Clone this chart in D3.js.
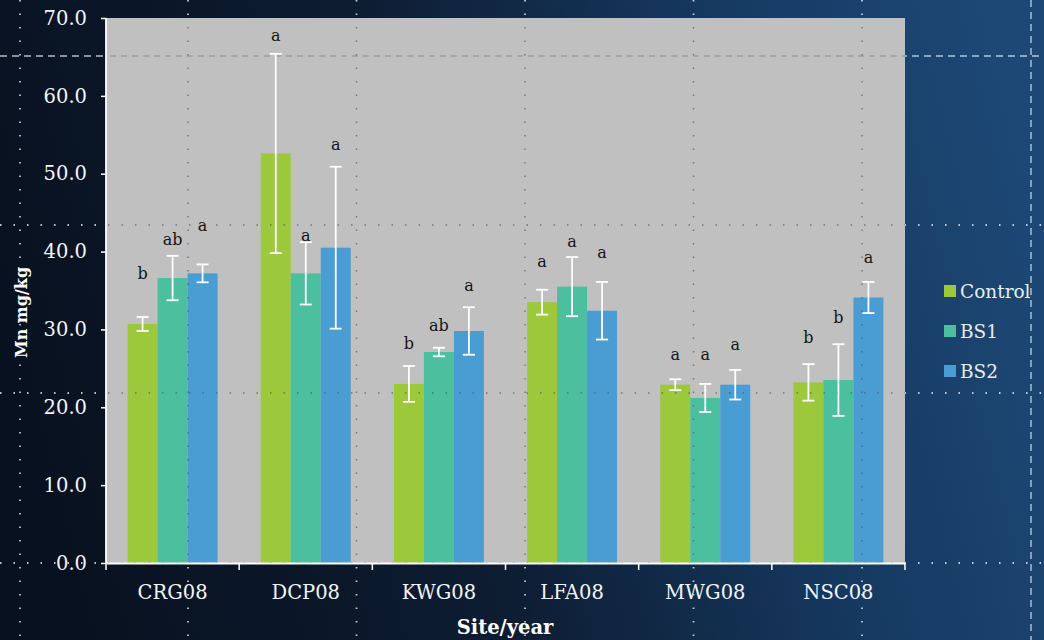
<!DOCTYPE html>
<html>
<head>
<meta charset="utf-8">
<script src="https://cdn.jsdelivr.net/npm/d3@7"></script>
<style>
  html, body { margin: 0; padding: 0; background: #0b1526; }
  svg { display: block; }
</style>
</head>
<body>
<svg id="chart" width="1044" height="640"></svg>
<script>
// Mn concentration by site/year and treatment
const sites = ["CRG08", "DCP08", "KWG08", "LFA08", "MWG08", "NSC08"];
const treatments = ["Control", "BS1", "BS2"];

const controlMean = [30.7, 52.6, 23.0, 33.5, 22.9, 23.2];
const bs1Mean     = [36.6, 37.2, 27.1, 35.5, 21.2, 23.5];
const bs2Mean     = [37.2, 40.5, 29.8, 32.4, 22.9, 34.1];

const controlErr = [0.9, 12.8, 2.3, 1.6, 0.7, 2.35];
const bs1Err     = [2.85, 4.0, 0.55, 3.8, 1.8, 4.6];
const bs2Err     = [1.15, 10.4, 3.05, 3.7, 1.9, 2.0];

// significance letters and the value level they are written at
const controlLetters = ["b", "a", "b", "a", "a", "b"];
const bs1Letters     = ["ab", "a", "ab", "a", "a", "b"];
const bs2Letters     = ["a", "a", "a", "a", "a", "a"];
const controlLetterAt = [37.2, 67.8, 28.2, 38.8, 26.8, 29.0];
const bs1LetterAt     = [41.5, 42.1, 30.5, 41.3, 26.8, 31.6];
const bs2LetterAt     = [43.3, 53.8, 35.6, 39.9, 28.1, 39.3];

const yTicks = [0, 10, 20, 30, 40, 50, 60, 70];

const means = [controlMean, bs1Mean, bs2Mean];
const errs = [controlErr, bs1Err, bs2Err];
const letters = [controlLetters, bs1Letters, bs2Letters];
const letterAt = [controlLetterAt, bs1LetterAt, bs2LetterAt];
const colors = ["#9cc83c", "#4cbf9f", "#4a9dd3"];

const W = 1044, H = 640;
const plot = { left: 106, right: 905, top: 18, bottom: 563 };
const serif = "'DejaVu Serif', 'Liberation Serif', serif";

const svg = d3.select("#chart");
const defs = svg.append("defs");

// slide background
const bg = defs.append("linearGradient").attr("id", "bg")
  .attr("x1", "0").attr("y1", "0.5").attr("x2", "1").attr("y2", "0.35");
bg.append("stop").attr("offset", "0").attr("stop-color", "#08111f");
bg.append("stop").attr("offset", "0.4").attr("stop-color", "#0d1c31");
bg.append("stop").attr("offset", "0.75").attr("stop-color", "#163a62");
bg.append("stop").attr("offset", "1").attr("stop-color", "#1d4875");
svg.append("rect").attr("width", W).attr("height", H).attr("fill", "url(#bg)");

const table = [];
sites.forEach((s, i) => treatments.forEach((t, k) => table.push({
  site: s, treat: t, k,
  mean: means[k][i], err: errs[k][i],
  letter: letters[k][i], letterAt: letterAt[k][i]
})));

const x0 = d3.scaleBand().domain(sites).range([plot.left, plot.right]).paddingInner(0).paddingOuter(0);
const x1 = d3.scaleBand().domain(treatments).range([0, x0.bandwidth()]).paddingInner(0).paddingOuter(0.72);
const y = d3.scaleLinear().domain([0, 70]).range([plot.bottom, plot.top]);

// decorative stitched grid on the slide
const gridX = [20, 188, 356.5, 525, 693.5, 862];
const gridY = [225, 393, 563];
const deco = svg.append("g");
gridX.forEach(gx => deco.append("line").attr("x1", gx).attr("x2", gx).attr("y1", 0).attr("y2", H)
  .attr("stroke", "#dfe6ee").attr("stroke-width", 1.8).attr("stroke-dasharray", "1.5 12").attr("opacity", 0.85));
gridY.forEach(gy => deco.append("line").attr("x1", 0).attr("x2", W).attr("y1", gy).attr("y2", gy)
  .attr("stroke", "#dfe6ee").attr("stroke-width", 1.8).attr("stroke-dasharray", "1.5 12").attr("opacity", 0.85));
deco.append("line").attr("x1", 0).attr("x2", W).attr("y1", 56).attr("y2", 56)
  .attr("stroke", "#dfe6ee").attr("stroke-width", 1.4).attr("stroke-dasharray", "7 5").attr("opacity", 0.8);
deco.append("line").attr("x1", 1031).attr("x2", 1031).attr("y1", 0).attr("y2", H)
  .attr("stroke", "#dfe6ee").attr("stroke-width", 1.4).attr("stroke-dasharray", "7 5").attr("opacity", 0.8);

// plot area
svg.append("rect").attr("x", plot.left).attr("y", plot.top)
  .attr("width", plot.right - plot.left).attr("height", plot.bottom - plot.top)
  .attr("fill", "#c0c0c0");

// bars
svg.append("g").selectAll("rect").data(table).join("rect")
  .attr("x", d => x0(d.site) + x1(d.treat))
  .attr("width", x1.bandwidth())
  .attr("y", d => y(d.mean))
  .attr("height", d => y(0) - y(d.mean))
  .attr("fill", d => colors[d.k]);

// grid stitching showing through the plot area
defs.append("clipPath").attr("id", "plotClip").append("rect")
  .attr("x", plot.left).attr("y", plot.top)
  .attr("width", plot.right - plot.left).attr("height", plot.bottom - plot.top);
const inner = svg.append("g").attr("clip-path", "url(#plotClip)");
gridX.forEach(gx => inner.append("line").attr("x1", gx).attr("x2", gx).attr("y1", 0).attr("y2", H)
  .attr("stroke", "#555").attr("stroke-width", 1.4).attr("stroke-dasharray", "1.5 12").attr("opacity", 0.7));
gridY.forEach(gy => inner.append("line").attr("x1", 0).attr("x2", W).attr("y1", gy).attr("y2", gy)
  .attr("stroke", "#555").attr("stroke-width", 1.4).attr("stroke-dasharray", "1.5 12").attr("opacity", 0.7));
inner.append("line").attr("x1", 0).attr("x2", W).attr("y1", 56).attr("y2", 56)
  .attr("stroke", "#777").attr("stroke-width", 1).attr("stroke-dasharray", "6 5").attr("opacity", 0.7);

// error bars
const eb = svg.append("g").attr("stroke", "#ffffff").attr("stroke-width", 1.8).attr("fill", "none");
const cx = d => x0(d.site) + x1(d.treat) + x1.bandwidth() / 2;
eb.selectAll("line.v").data(table).join("line").attr("class", "v")
  .attr("x1", cx).attr("x2", cx)
  .attr("y1", d => y(d.mean + d.err)).attr("y2", d => y(d.mean - d.err));
eb.selectAll("line.t").data(table).join("line").attr("class", "t")
  .attr("x1", d => cx(d) - 6).attr("x2", d => cx(d) + 6)
  .attr("y1", d => y(d.mean + d.err)).attr("y2", d => y(d.mean + d.err));
eb.selectAll("line.b").data(table).join("line").attr("class", "b")
  .attr("x1", d => cx(d) - 6).attr("x2", d => cx(d) + 6)
  .attr("y1", d => y(d.mean - d.err)).attr("y2", d => y(d.mean - d.err));

// significance letters
svg.append("g").selectAll("text").data(table).join("text")
  .attr("x", cx).attr("y", d => y(d.letterAt))
  .attr("dy", "0.35em").attr("text-anchor", "middle")
  .attr("font-family", serif).attr("font-size", 16).attr("fill", "#151515")
  .text(d => d.letter);

// axes
const yAxis = svg.append("g").attr("transform", `translate(${plot.left},0)`)
  .call(d3.axisLeft(y).tickValues(yTicks).tickFormat(d3.format(".1f")).tickSize(5).tickPadding(14));
const xAxis = svg.append("g").attr("transform", `translate(0,${plot.bottom})`)
  .call(d3.axisBottom(x0).tickSize(0).tickPadding(29));
// category boundary ticks
svg.append("g").selectAll("line").data(sites.concat(["end"])).join("line")
  .attr("x1", (d, i) => plot.left + i * x0.step()).attr("x2", (d, i) => plot.left + i * x0.step())
  .attr("y1", plot.bottom).attr("y2", plot.bottom + 7)
  .attr("stroke", "#ffffff").attr("stroke-width", 1.5);

[yAxis, xAxis].forEach(g => {
  g.selectAll(".domain").attr("stroke", "#ffffff").attr("stroke-width", 1.8);
  g.selectAll(".tick line").attr("stroke", "#ffffff").attr("stroke-width", 1.5);
  g.selectAll(".tick text").attr("fill", "#f2f5f8").attr("font-family", serif);
});
yAxis.selectAll(".tick text").attr("font-size", 19.5);
xAxis.selectAll(".tick text").attr("font-size", 19.5).attr("dy", "0.35em");
yAxis.select(".domain").attr("d", `M0,${plot.top}V${plot.bottom}`);

// axis titles
svg.append("text").attr("transform", `translate(27,${(plot.top + plot.bottom) / 2 + 22}) rotate(-90)`)
  .attr("text-anchor", "middle").attr("font-family", serif).attr("font-weight", "bold")
  .attr("font-size", 16).attr("fill", "#ffffff").text("Mn mg/kg");
svg.append("text").attr("x", 505).attr("y", 634)
  .attr("text-anchor", "middle").attr("font-family", serif).attr("font-weight", "bold")
  .attr("font-size", 19.5).attr("fill", "#ffffff").text("Site/year");

// legend
const legend = svg.append("g").attr("transform", "translate(944,0)");
const ly = d3.scalePoint().domain(treatments).range([291, 371]);
legend.selectAll("rect").data(treatments).join("rect")
  .attr("x", 0).attr("y", d => ly(d) - 6).attr("width", 12).attr("height", 12)
  .attr("fill", (d, i) => colors[i]);
legend.selectAll("text").data(treatments).join("text")
  .attr("x", 16).attr("y", d => ly(d)).attr("dy", "0.36em")
  .attr("font-family", serif).attr("font-size", 18.5).attr("fill", "#e6ecf2")
  .text(d => d);
</script>
</body>
</html>
